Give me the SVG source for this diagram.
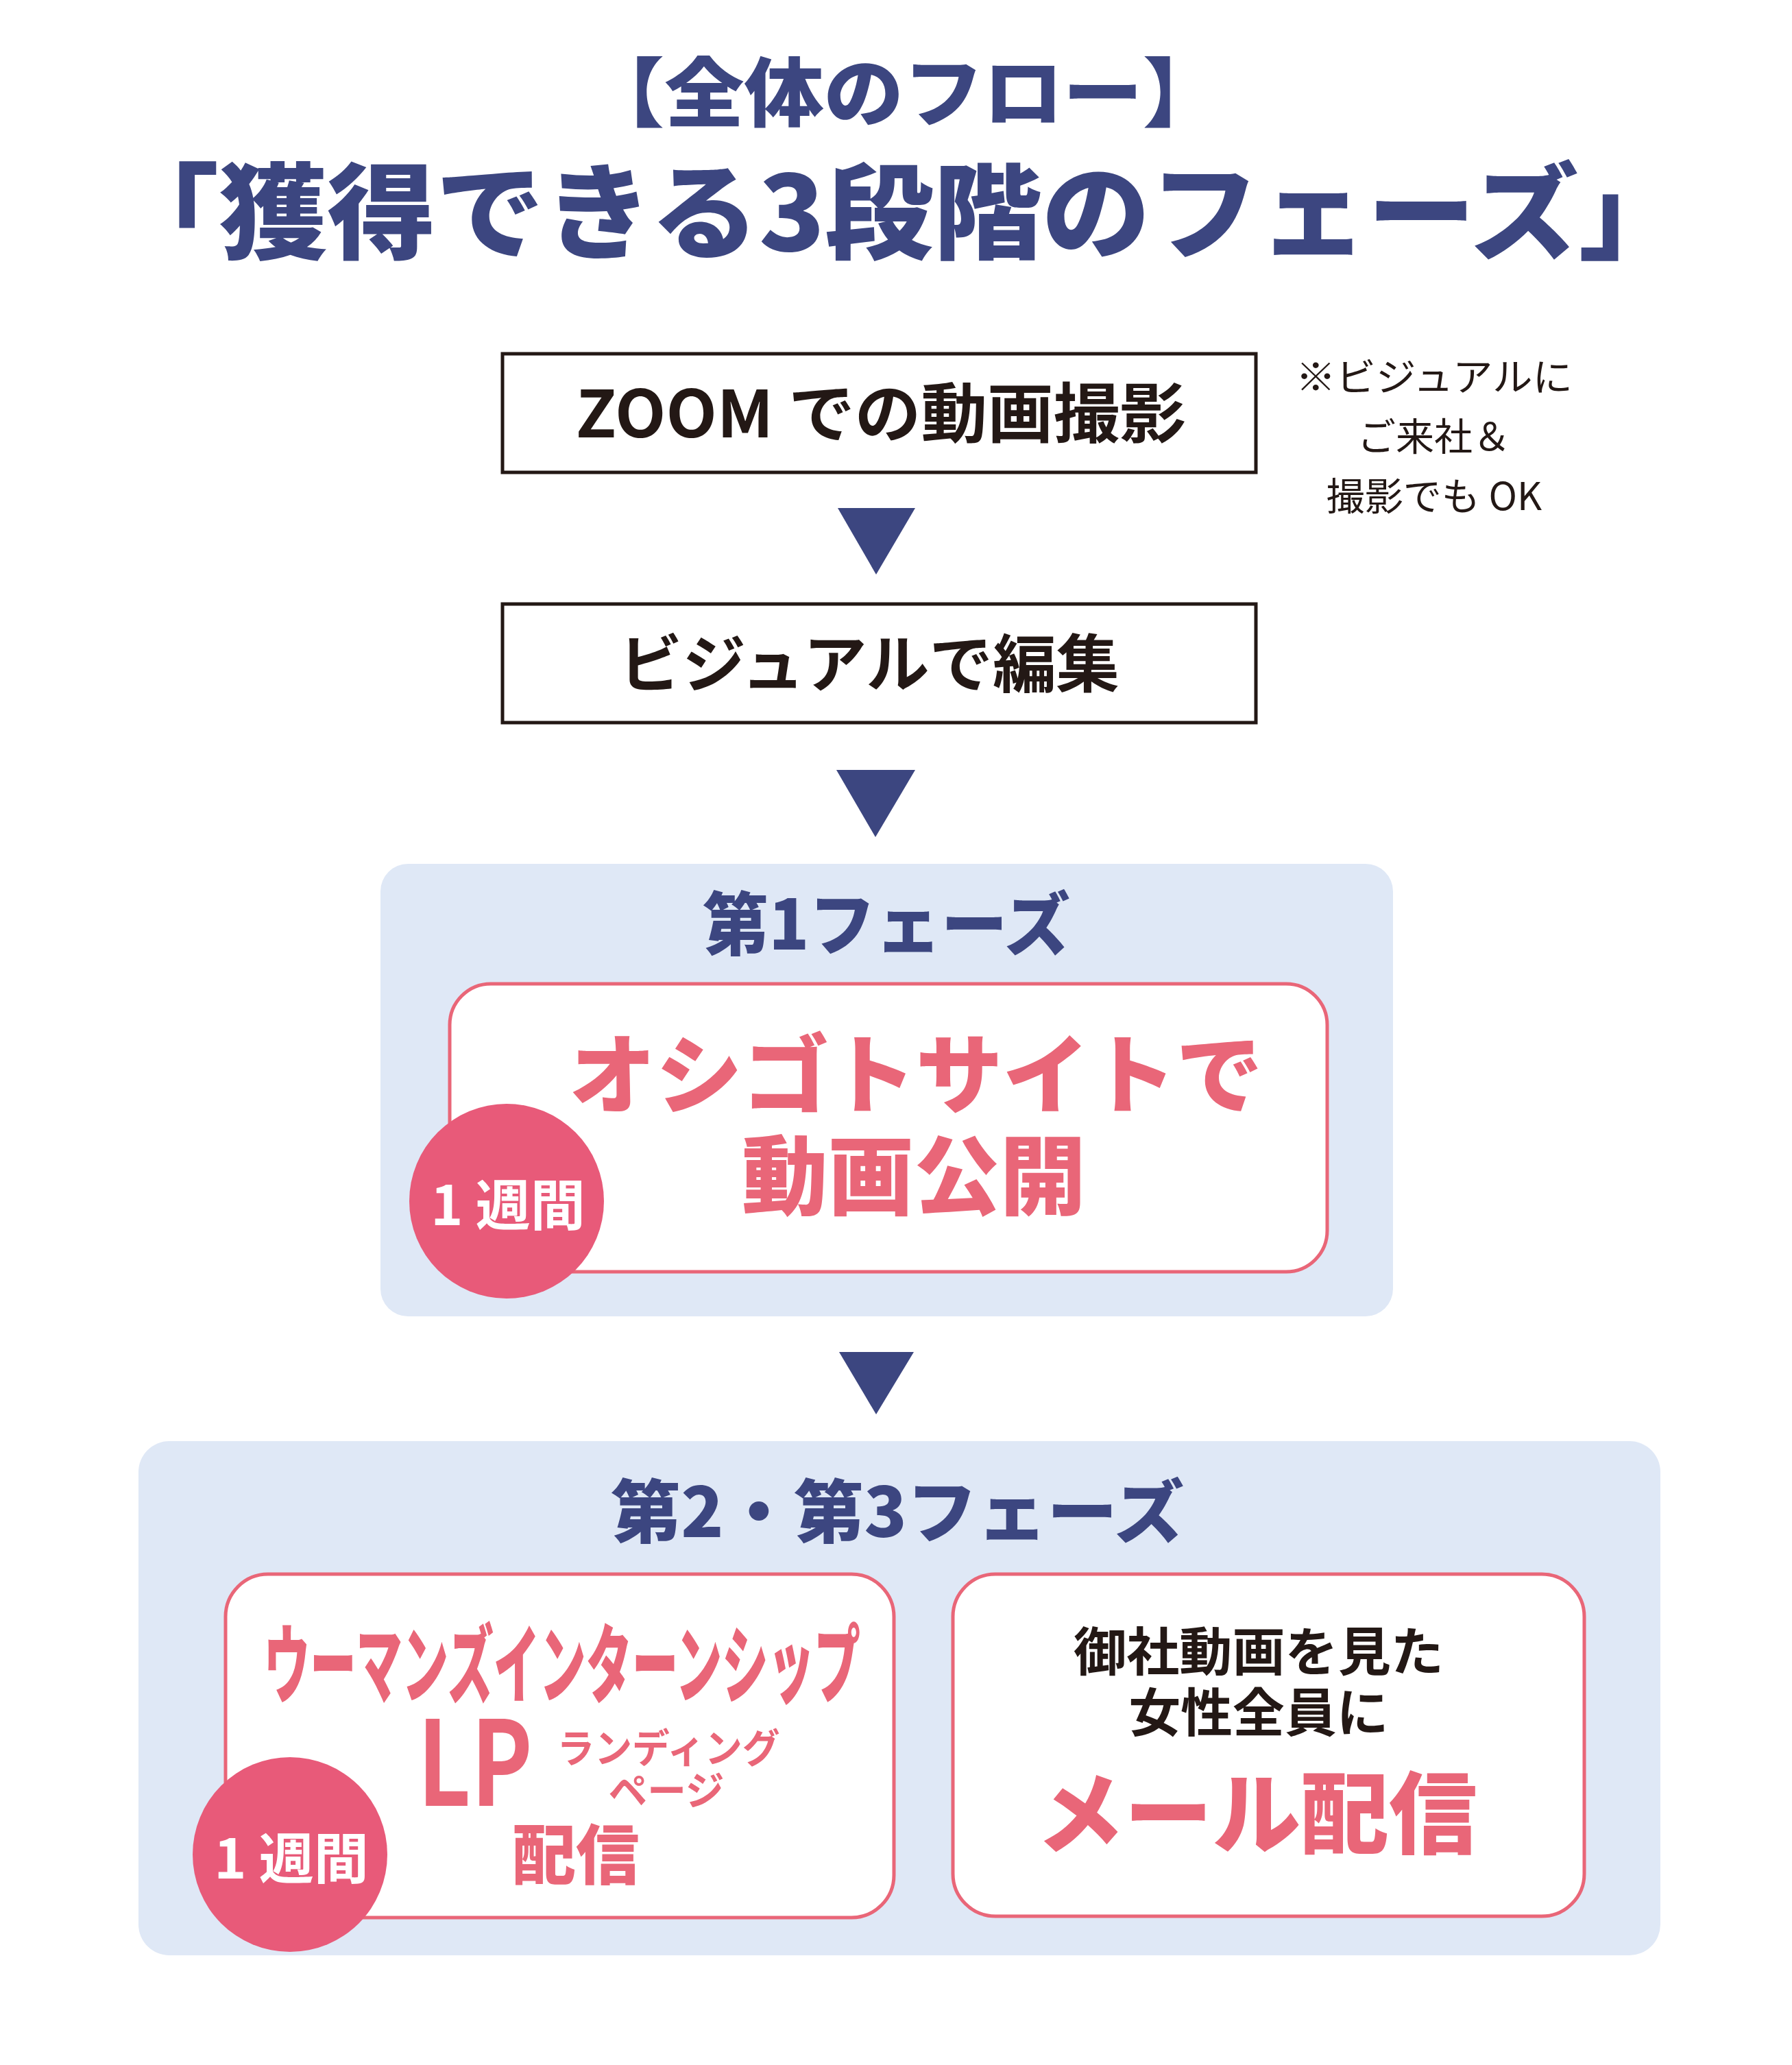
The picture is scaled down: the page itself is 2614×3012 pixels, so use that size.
<svg xmlns="http://www.w3.org/2000/svg" width="2614" height="3012" viewBox="0 0 2614 3012">
<defs>
<style>
text{font-family:"Noto Sans CJK JP","Noto Sans",sans-serif;text-anchor:middle}
.navy{fill:#3c4680}
.ink{fill:#231815}
.pinkt{fill:#e96678}
.white{fill:#ffffff}
.b9{font-weight:900}
.b7{font-weight:700}
.r4{font-weight:400}
.step{fill:#ffffff;stroke:#231815;stroke-width:5}
.panel{fill:#dfe8f6}
.card{fill:#ffffff;stroke:#e96678;stroke-width:5}
.badge{fill:#e85a79}
.arrow{fill:#3c4680}
</style>
</defs>
<rect width="2614" height="3012" fill="#ffffff"/>

<g id="title">
<text class="navy b9" x="1318" y="176" font-size="110" textLength="930" lengthAdjust="spacingAndGlyphs">【全体のフロー】</text>
<text class="navy b9" x="1311" y="366" font-size="152" textLength="2300" lengthAdjust="spacingAndGlyphs">「獲得できる3段階のフェーズ」</text>
</g>

<g id="connectors">
<polygon class="arrow" points="1222,741 1335,741 1278,838"/>
<polygon class="arrow" points="1220,1123 1335,1123 1277,1221"/>
<polygon class="arrow" points="1224,1972 1333,1972 1278,2063"/>
</g>

<g id="node-zoom">
<rect class="step" x="733" y="516" width="1099" height="173"/>
<text class="ink b7" x="1285" y="638" font-size="95" textLength="890" lengthAdjust="spacingAndGlyphs">ZOOM での動画撮影</text>
</g>

<g id="note">
<text class="ink r4" x="2092" y="570" font-size="56" textLength="404" lengthAdjust="spacingAndGlyphs">※ビジュアルに</text>
<text class="ink r4" x="2092" y="657" font-size="56">ご来社＆</text>
<text class="ink r4" x="2092" y="744" font-size="56">撮影でも OK</text>
</g>

<g id="node-edit">
<rect class="step" x="733" y="881" width="1099" height="173"/>
<text class="ink b7" x="1268" y="1002" font-size="92" textLength="730" lengthAdjust="spacingAndGlyphs">ビジュアルで編集</text>
</g>

<g id="phase1">
<rect class="panel" x="555" y="1260" width="1477" height="660" rx="40" ry="40"/>
<text class="navy b9" x="1293" y="1385" font-size="100" textLength="536" lengthAdjust="spacingAndGlyphs">第1フェーズ</text>
<rect class="card" x="656" y="1435" width="1280" height="420" rx="60" ry="60"/>
<text class="pinkt b9" x="1336" y="1614" font-size="126" textLength="1012" lengthAdjust="spacingAndGlyphs">オシゴトサイトで</text>
<text class="pinkt b9" x="1333" y="1762" font-size="126" textLength="502" lengthAdjust="spacingAndGlyphs">動画公開</text>
<g id="badge1">
<circle class="badge" cx="739" cy="1752" r="142"/>
<text class="white b7" x="741" y="1787" font-size="80">1 週間</text>
</g>
</g>

<g id="phase23">
<rect class="panel" x="202" y="2102" width="2220" height="750" rx="45" ry="45"/>
<text class="navy b9" x="1309" y="2242" font-size="100" textLength="836" lengthAdjust="spacingAndGlyphs">第2・第3フェーズ</text>
</g>

<g id="node-lp">
<rect class="card" x="329" y="2296" width="975" height="501" rx="62" ry="62"/>
<text class="pinkt b9" x="820" y="2474" font-size="125" textLength="870" lengthAdjust="spacingAndGlyphs">ウーマンズインターンシップ</text>
<text class="pinkt b7" x="693" y="2634" font-size="172" textLength="168" lengthAdjust="spacingAndGlyphs">LP</text>
<text class="pinkt b7" x="975" y="2571" font-size="58" textLength="325" lengthAdjust="spacingAndGlyphs">ランディング</text>
<text class="pinkt b7" x="972" y="2633" font-size="58" textLength="169" lengthAdjust="spacingAndGlyphs">ページ</text>
<text class="pinkt b9" x="840" y="2741" font-size="95" textLength="185" lengthAdjust="spacingAndGlyphs">配信</text>
<g id="badge2">
<circle class="badge" cx="423" cy="2705" r="142"/>
<text class="white b7" x="425" y="2740" font-size="80">1 週間</text>
</g>
</g>

<g id="node-mail">
<rect class="card" x="1390" y="2296" width="921" height="499" rx="62" ry="62"/>
<text class="ink b7" x="1836" y="2437" font-size="76" textLength="540" lengthAdjust="spacingAndGlyphs">御社動画を見た</text>
<text class="ink b7" x="1836" y="2526" font-size="76" textLength="379" lengthAdjust="spacingAndGlyphs">女性全員に</text>
<text class="pinkt b9" x="1833" y="2693" font-size="130" textLength="643" lengthAdjust="spacingAndGlyphs">メール配信</text>
</g>
</svg>
